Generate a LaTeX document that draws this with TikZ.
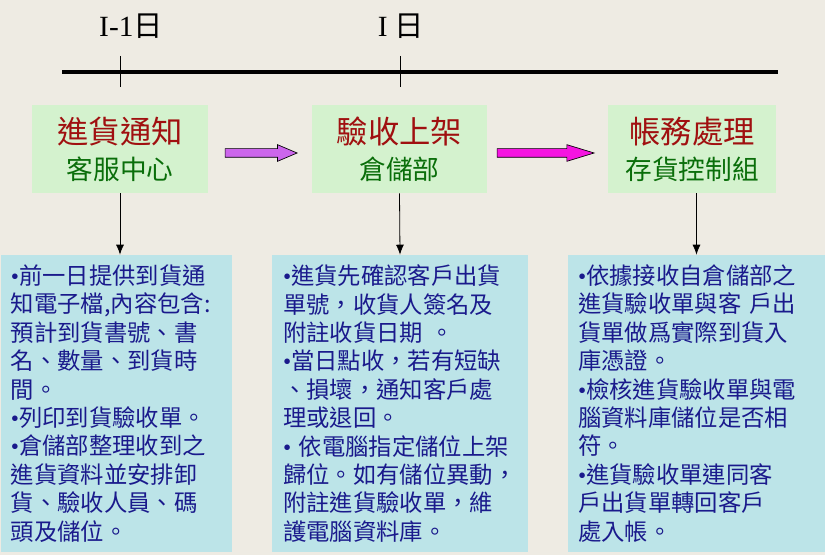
\documentclass[tikz,border=0pt]{standalone}
\usepackage{fontspec}
\setmainfont{Liberation Serif}
\newfontfamily\cjk{Noto Sans CJK TC}
\usetikzlibrary{arrows.meta,shapes.arrows}
\definecolor{paper}{RGB}{238,235,227}
\definecolor{stagegreen}{RGB}{212,242,206}
\definecolor{notecyan}{RGB}{188,228,232}
\definecolor{titlered}{RGB}{160,16,16}
\definecolor{subgreen}{RGB}{10,110,10}
\definecolor{notenavy}{RGB}{26,26,140}
\definecolor{flowviolet}{RGB}{204,102,236}
\definecolor{flowmagenta}{RGB}{245,20,225}
\newcommand\itemdot{{\rmfamily\textbullet}}

\begin{document}
\begin{tikzpicture}[x=0.75pt,y=0.75pt,yscale=-1,xscale=1,
  stagebox/.style={fill=stagegreen, minimum height=66pt, inner sep=0pt, align=center,
    font=\cjk\fontsize{23.5}{27}\selectfont, text=titlered},
  notebox/.style={fill=notecyan, minimum height=222.75pt, inner ysep=0pt, align=left,
    font=\cjk\fontsize{17.5}{21.3}\selectfont, text=notenavy},
  flow/.style={single arrow, draw=black, line width=0.5pt, inner xsep=0pt, inner ysep=3pt,
    single arrow head extend=3pt},
  down/.style={-{Latex[length=7.5pt,width=6pt]}, line width=0.6pt}]
%background, sets the size of the picture
\fill [paper] (0,0) rectangle (825,555);

%Timeline
\draw [line width=3pt] (62,72) -- (778,72) ;
\draw [line width=0.75pt] (120,56) -- (120,87) ;
\draw [line width=0.75pt] (400,56) -- (400,87) ;

% Text Node
\node (dayprev) [font=\fontsize{22}{22}\selectfont] at (131,26) {I-1{\cjk 日}};
% Text Node
\node (daycur) [font=\fontsize{22}{22}\selectfont] at (401,26) {I {\cjk 日}};

%Stages
\node (notice) [stagebox, minimum width=132pt] at (120,149) {進貨通知\\\fontsize{20}{27}\selectfont\color{subgreen}客服中心};
\node (receive) [stagebox, minimum width=131.25pt] at (399.5,149) {驗收上架\\\fontsize{20}{27}\selectfont\color{subgreen}倉儲部};
\node (account) [stagebox, minimum width=126pt] at (692,149) {帳務處理\\\fontsize{20}{27}\selectfont\color{subgreen}存貨控制組};

%Block arrows
\node (flowA) [flow, fill=flowviolet, minimum height=54pt, single arrow tip angle=46] at (256,153) {};
\node (flowB) [flow, fill=flowmagenta, minimum height=72.75pt, single arrow tip angle=34] at (538.5,153) {};

%Notes
\node (noticenotes) [notebox, text width=158.25pt, inner xsep=7.5pt] at (116.5,403.5) {\itemdot 前一日提供到貨通\\知電子檔,內容包含:\\預計到貨書號、書\\名、數量、到貨時\\間。\\\itemdot 列印到貨驗收單。\\\itemdot 倉儲部整理收到之\\進貨資料並安排卸\\貨、驗收人員、碼\\頭及儲位。};
\node (receivenotes) [notebox, text width=175.5pt, inner xsep=8.25pt] at (400,403.5) {\itemdot 進貨先確認客戶出貨\\單號，收貨人簽名及\\附註收貨日期 。\\\itemdot 當日點收，若有短缺\\、損壞，通知客戶處\\理或退回。\\\itemdot\ 依電腦指定儲位上架\\歸位。如有儲位異動，\\附註進貨驗收單，維\\護電腦資料庫。};
\node (accountnotes) [notebox, text width=177.75pt, inner xsep=7.5pt] at (696.5,403.5) {\itemdot 依據接收自倉儲部之\\進貨驗收單與客 戶出\\貨單做爲實際到貨入\\庫憑證。\\\itemdot 檢核進貨驗收單與電\\腦資料庫儲位是否相\\符。\\\itemdot 進貨驗收單連同客\\戶出貨單轉回客戶\\處入帳。};

%Down arrows
\draw [down] (notice.south) -- (notice.south |- noticenotes.north) ;
\draw [down] (receive.south) -- (receivenotes.north) ;
\draw [down] (accountnotes.north |- account.south) -- (accountnotes.north) ;

\end{tikzpicture}
\end{document}
